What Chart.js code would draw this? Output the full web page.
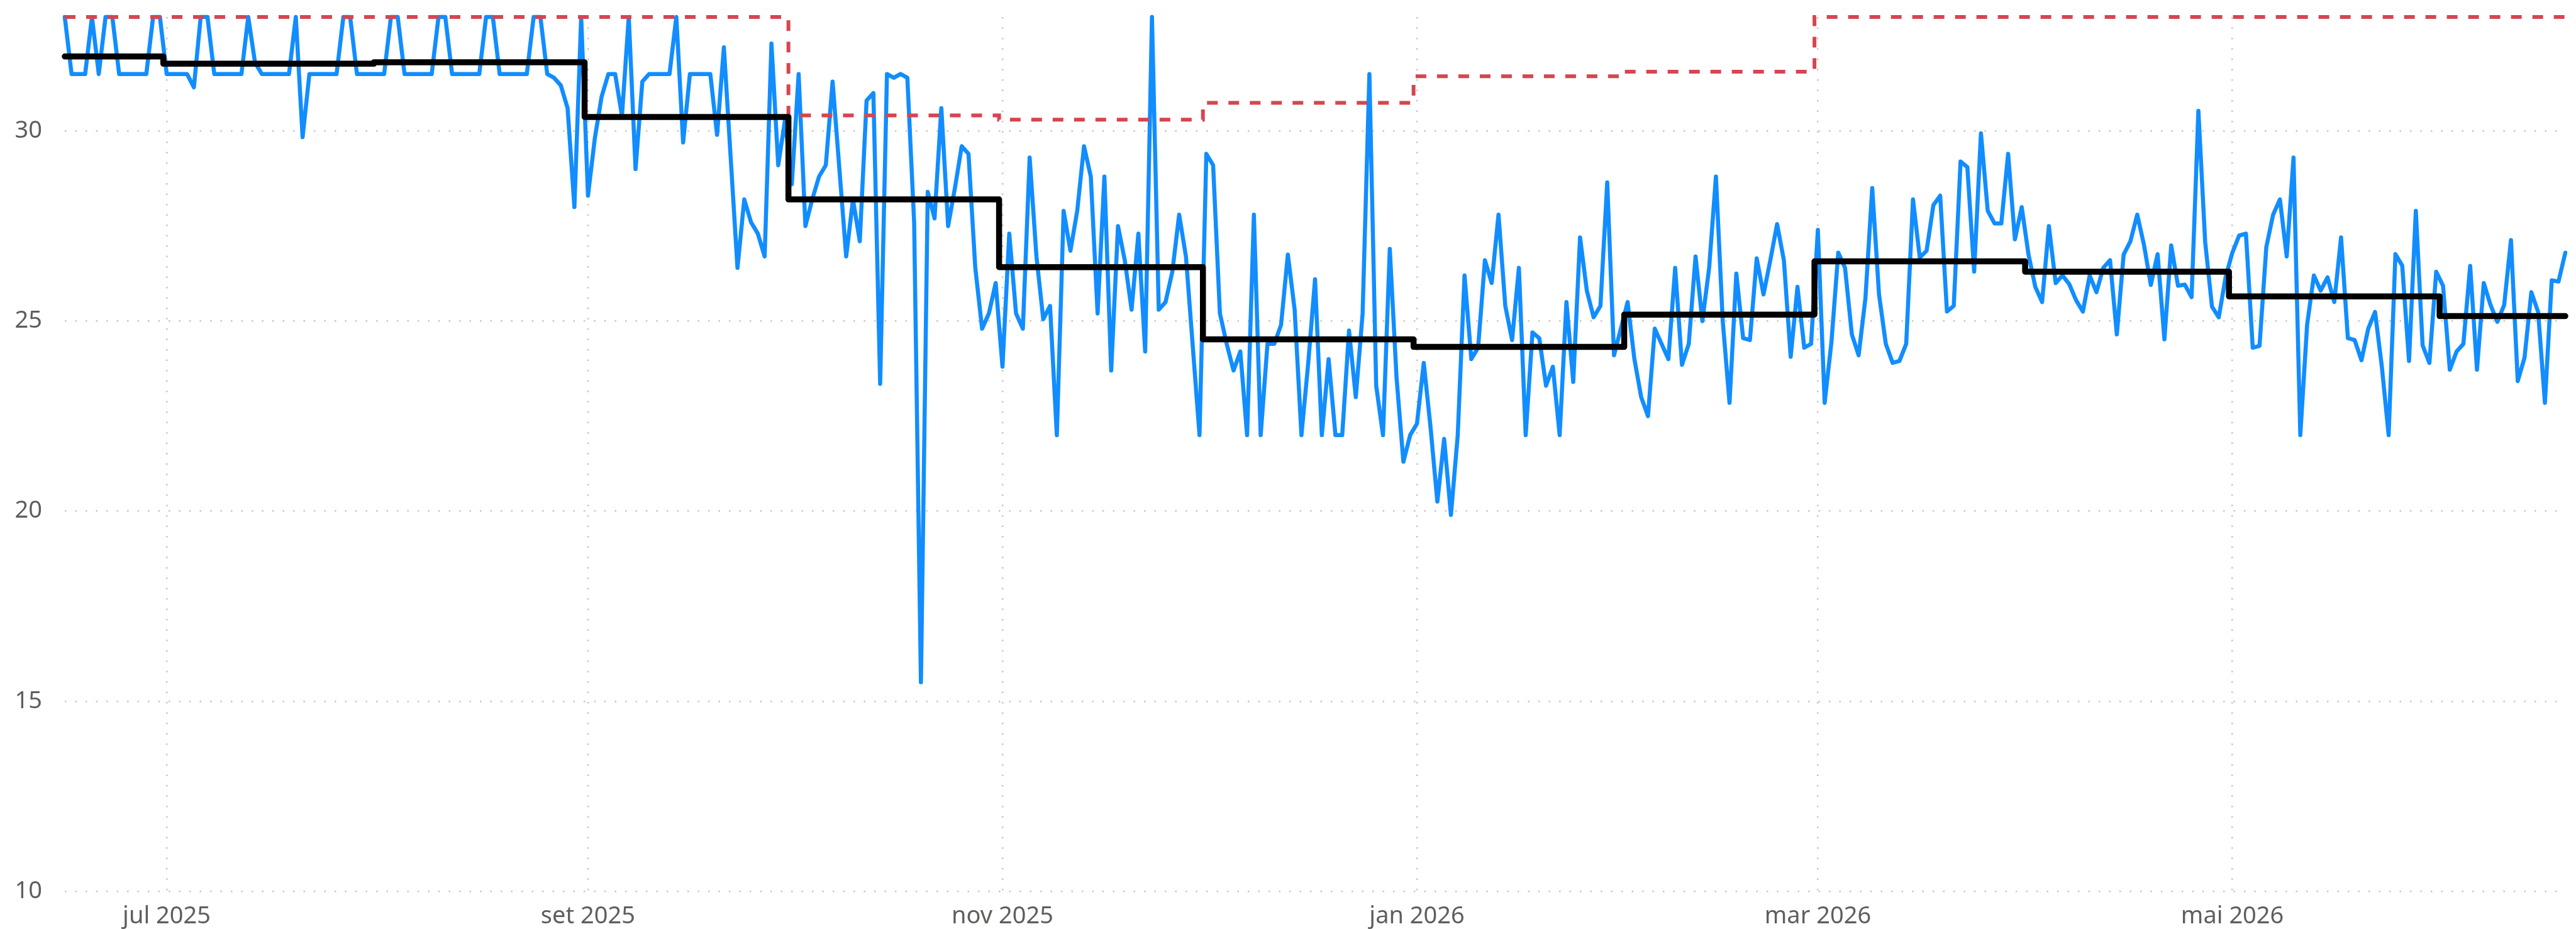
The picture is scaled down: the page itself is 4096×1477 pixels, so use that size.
<!DOCTYPE html>
<html lang="pt">
<head>
<meta charset="utf-8">
<title>Diário e médias mensais</title>
<script src="https://cdn.jsdelivr.net/npm/chart.js@4.4.1/dist/chart.umd.min.js"></script>
<style>
  html, body { margin: 0; padding: 0; background: #ffffff; }
  #wrap { width: 4096px; height: 1477px; position: relative; }
</style>
</head>
<body>
<div id="wrap"><canvas id="grafico"></canvas></div>
<script>
// dia 0 = 16/06/2025, ultimo dia = 19/06/2026
const valoresDiarios = [
  33, 31.5, 31.5, 31.5, 33, 31.5, 33, 33, 31.5, 31.5, 31.5, 31.5, 31.5, 33, 33,
  31.5, 31.5, 31.5, 31.5, 31.15, 33, 33, 31.5, 31.5, 31.5, 31.5, 31.5, 33, 31.8, 31.5,
  31.5, 31.5, 31.5, 31.5, 33, 29.84, 31.5, 31.5, 31.5, 31.5, 31.5, 33, 33, 31.5, 31.5,
  31.5, 31.5, 31.5, 33, 33, 31.5, 31.5, 31.5, 31.5, 31.5, 33, 33, 31.5, 31.5, 31.5,
  31.5, 31.5, 33, 33, 31.5, 31.5, 31.5, 31.5, 31.5, 33, 33, 31.5, 31.4, 31.2, 30.6,
  28.0, 33, 28.3, 29.8, 30.9, 31.5, 31.5, 30.4, 33, 29.0, 31.3, 31.5, 31.5, 31.5, 31.5,
  33, 29.7, 31.5, 31.5, 31.5, 31.5, 29.9, 32.2, 29.3, 26.4, 28.2, 27.6, 27.3, 26.7, 32.3,
  29.1, 30.3, 28.6, 31.5, 27.5, 28.2, 28.8, 29.1, 31.3, 29.0, 26.7, 28.2, 27.1, 30.8, 31.0,
  23.35, 31.5, 31.4, 31.5, 31.4, 27.6, 15.5, 28.4, 27.7, 30.6, 27.5, 28.5, 29.6, 29.4, 26.4,
  24.8, 25.2, 26.0, 23.8, 27.3, 25.2, 24.8, 29.3, 26.7, 25.05, 25.4, 22.0, 27.9, 26.85, 27.9,
  29.6, 28.8, 25.2, 28.8, 23.7, 27.5, 26.6, 25.3, 27.3, 24.2, 33.0, 25.3, 25.5, 26.3, 27.8,
  26.7, 24.35, 22.0, 29.4, 29.1, 25.2, 24.4, 23.7, 24.2, 22.0, 27.8, 22.0, 24.4, 24.4, 24.9,
  26.75, 25.3, 22.0, 23.9, 26.1, 22.0, 24.0, 22.0, 22.0, 24.75, 23.0, 25.2, 31.5, 23.3, 22.0,
  26.9, 23.5, 21.3, 22.0, 22.3, 23.9, 22.2, 20.25, 21.9, 19.9, 22.0, 26.2, 24.0, 24.3, 26.6,
  26.0, 27.8, 25.4, 24.5, 26.4, 22.0, 24.7, 24.55, 23.3, 23.8, 22.0, 25.5, 23.4, 27.2, 25.8,
  25.1, 25.4, 28.65, 24.1, 24.8, 25.5, 24.0, 23.0, 22.5, 24.8, 24.4, 24.0, 26.4, 23.85, 24.4,
  26.7, 25.0, 26.4, 28.8, 25.0, 22.85, 26.25, 24.55, 24.5, 26.65, 25.7, 26.6, 27.55, 26.6, 24.06,
  25.9, 24.3, 24.4, 27.4, 22.85, 24.45, 26.8, 26.4, 24.65, 24.1, 25.6, 28.5, 25.7, 24.4, 23.9,
  23.95, 24.4, 28.2, 26.67, 26.85, 28.05, 28.3, 25.25, 25.4, 29.2, 29.05, 26.3, 29.94, 27.9, 27.57,
  27.57, 29.4, 27.15, 28.0, 26.75, 25.9, 25.5, 27.5, 26.0, 26.2, 25.97, 25.55, 25.25, 26.2, 25.76,
  26.4, 26.6, 24.65, 26.75, 27.1, 27.8, 27.0, 25.95, 26.76, 24.52, 26.99, 25.93, 25.96, 25.63, 30.53,
  27.08, 25.38, 25.1, 26.15, 26.8, 27.25, 27.3, 24.3, 24.35, 26.95, 27.8, 28.2, 26.7, 29.3, 22.0,
  24.9, 26.2, 25.8, 26.15, 25.5, 27.2, 24.55, 24.5, 23.97, 24.8, 25.24, 23.8, 22.0, 26.76, 26.46,
  23.95, 27.9, 24.36, 23.9, 26.3, 25.93, 23.72, 24.2, 24.4, 26.45, 23.72, 26.0, 25.42, 24.98, 25.42,
  27.13, 23.42, 24.04, 25.76, 25.24, 22.85, 26.07, 26.04, 26.8
];

// inicio de cada mes (indice do dia)
const inicioMes = [0, 15, 46, 77, 107, 138, 168, 199, 230, 258, 289, 319, 350];
const mediaMensal = [31.96, 31.77, 31.81, 30.37, 28.2, 26.42, 24.52, 24.32, 25.17, 26.57, 26.3, 25.65, 25.13];
const limiteMensal = [33, 33, 33, 33, 30.41, 30.3, 30.74, 31.44, 31.56, 33, 33, 33, 33];

const diasTick = [15, 77, 138, 199, 258, 319];
const rotulosTick = ['jul 2025', 'set 2025', 'nov 2025', 'jan 2026', 'mar 2026', 'mai 2026'];
const ticksY = [10, 15, 20, 25, 30];

document.addEventListener("DOMContentLoaded", () => {
    desenharGrafico();
});

function degraus(valores) {
    const ultimoDia = valoresDiarios.length - 1;
    const pontos = inicioMes.map((d, i) => ({ x: i === 0 ? 0 : d - 0.5, y: valores[i] }));
    pontos.push({ x: ultimoDia, y: valores[valores.length - 1] });
    return pontos;
}

function desenharGrafico() {
    const ctx = document.querySelector('#grafico');
    const fonte = { family: "'Segoe UI', 'Noto Sans', 'Open Sans', sans-serif", size: 38 };
    const corTexto = '#605E5C';
    const corGrade = '#C8C6C4';

    new Chart(ctx, {
        type: 'line',
        data: {
            datasets: [
                {
                    label: 'Média mensal',
                    data: degraus(mediaMensal),
                    borderColor: '#000000',
                    borderWidth: 9.5,
                    stepped: 'before',
                    borderJoinStyle: 'round',
                    borderCapStyle: 'round',
                    pointRadius: 0,
                    clip: false,
                    order: 0
                },
                {
                    label: 'Limite',
                    data: degraus(limiteMensal),
                    borderColor: '#D64550',
                    borderWidth: 6,
                    borderDash: [17, 17],
                    stepped: 'before',
                    pointRadius: 0,
                    clip: false,
                    order: 1
                },
                {
                    label: 'Diário',
                    data: valoresDiarios.map((v, i) => ({ x: i, y: v })),
                    borderColor: '#118DFF',
                    borderWidth: 6.5,
                    borderJoinStyle: 'round',
                    borderCapStyle: 'round',
                    tension: 0,
                    pointRadius: 0,
                    clip: false,
                    order: 2
                }
            ]
        },
        options: {
            responsive: true,
            maintainAspectRatio: false,
            animation: false,
            layout: { padding: { left: 0, right: 17, top: 27, bottom: 0 } },
            plugins: {
                legend: { display: false },
                tooltip: { enabled: false }
            },
            scales: {
                x: {
                    type: 'linear',
                    min: 0,
                    max: valoresDiarios.length - 1,
                    afterBuildTicks: (axis) => {
                        axis.ticks = diasTick.map(v => ({ value: v }));
                    },
                    afterFit: (axis) => {
                        axis.height = 60;
                        axis.paddingLeft = 0;
                        axis.paddingRight = 0;
                    },
                    ticks: {
                        autoSkip: false,
                        maxRotation: 0,
                        padding: 17,
                        color: corTexto,
                        font: fonte,
                        callback: (v) => rotulosTick[diasTick.indexOf(v)]
                    },
                    grid: { color: corGrade, lineWidth: 2.5, drawTicks: false },
                    border: { display: false, dash: [2.5, 14] }
                },
                y: {
                    min: 10,
                    max: 33,
                    afterBuildTicks: (axis) => {
                        axis.ticks = ticksY.map(v => ({ value: v }));
                    },
                    afterFit: (axis) => {
                        axis.width = 103;
                        axis.paddingTop = 0;
                        axis.paddingBottom = 0;
                    },
                    ticks: {
                        padding: 36,
                        color: corTexto,
                        font: fonte
                    },
                    grid: { color: corGrade, lineWidth: 2.5, drawTicks: false },
                    border: { display: false, dash: [2.5, 14] }
                }
            }
        }
    });
}
</script>
</body>
</html>
